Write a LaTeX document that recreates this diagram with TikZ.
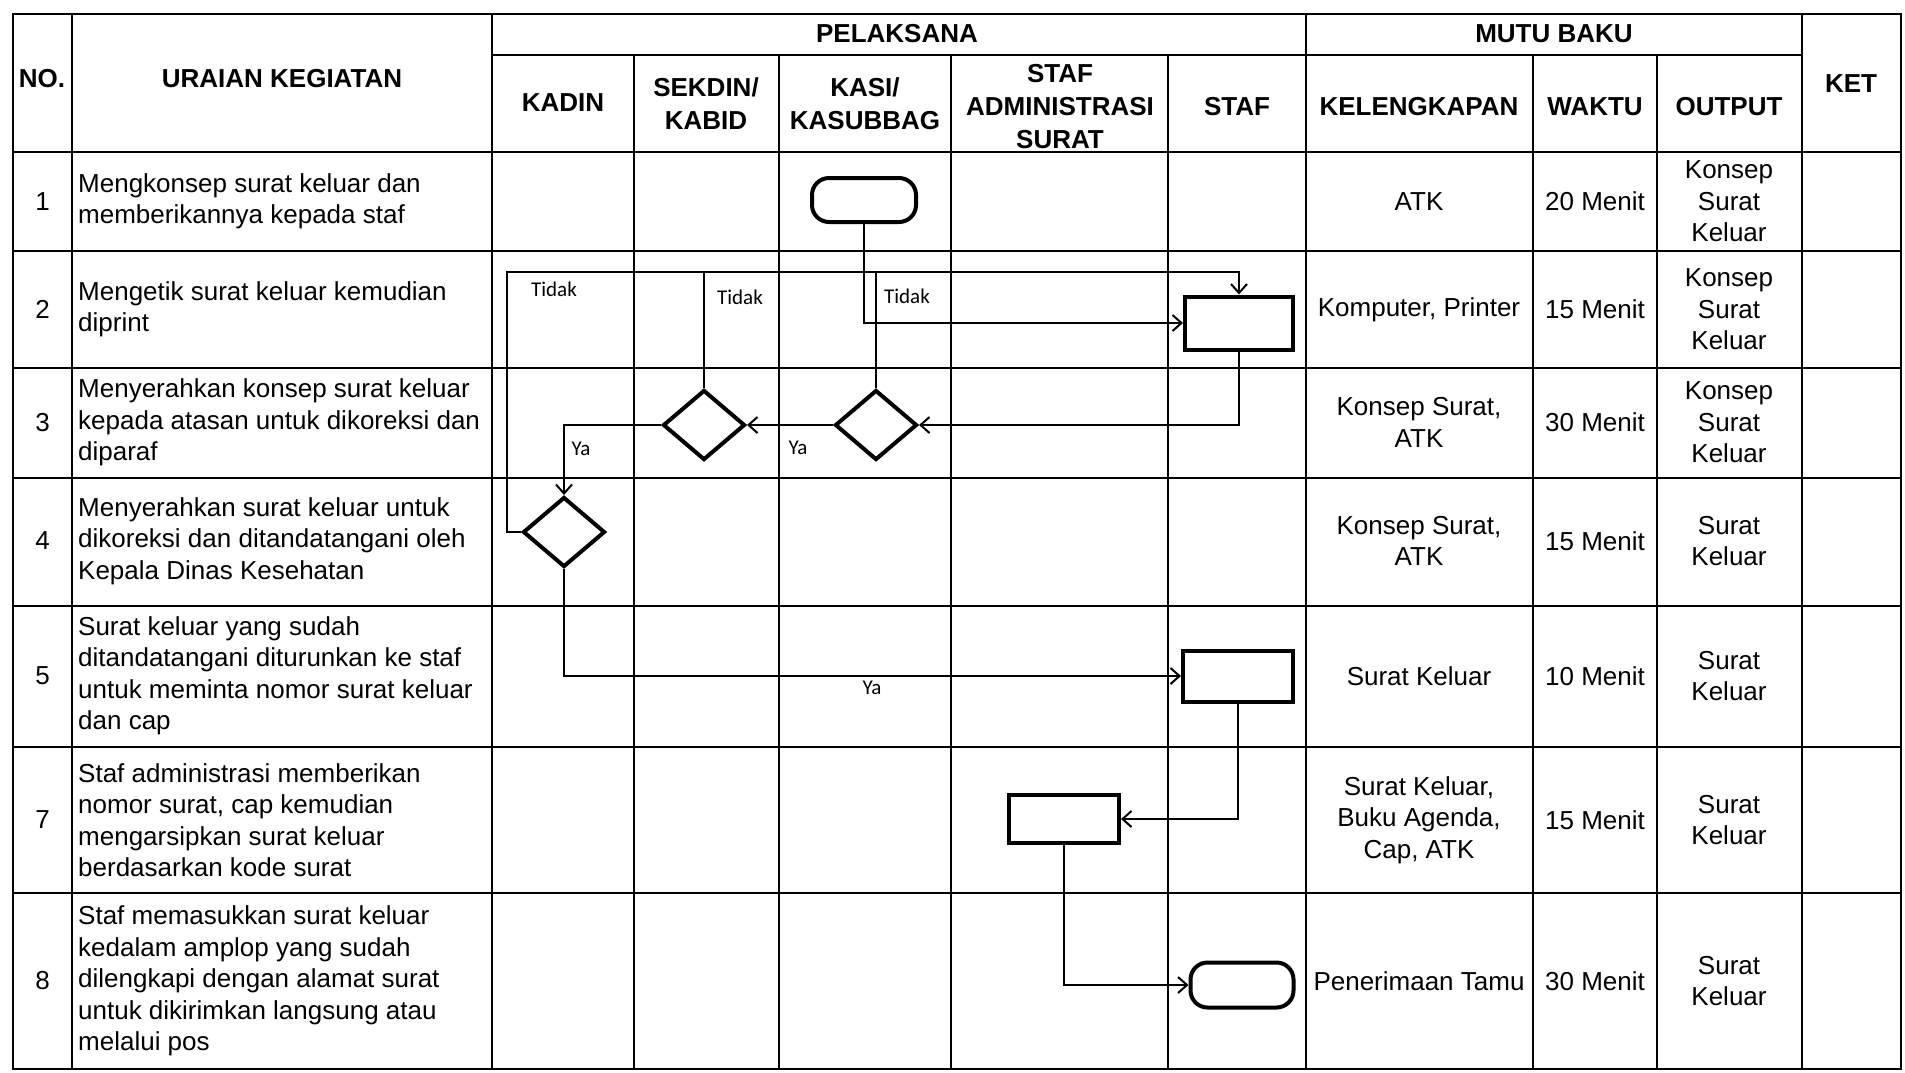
\documentclass[tikz,border=0pt]{standalone}
\usepackage{fontspec}
\setmainfont{Liberation Sans}
\newfontfamily\lblfont{Carlito}
\usetikzlibrary{shapes.geometric,arrows.meta}
\begin{document}
\begin{tikzpicture}[x=1pt,y=-1pt,
  grid/.style={line width=2.2pt},
  cell/.style={font=\fontsize{26}{31.5}\selectfont, align=center, inner sep=0pt},
  desc/.style={font=\fontsize{26}{31.5}\selectfont, align=left, anchor=west, inner sep=0pt},
  hdr/.style={font=\fontsize{26}{33}\selectfont\bfseries, align=center, inner sep=0pt},
  proc/.style={draw, line width=4pt, rectangle, inner sep=0pt},
  term/.style={draw, line width=4pt, rectangle, rounded corners=17pt, inner sep=0pt},
  dec/.style={draw, line width=4pt, diamond, inner sep=0pt, minimum width=82pt, minimum height=70pt},
  flow/.style={line width=2pt, -{Straight Barb[length=9pt,width=16pt,line width=2pt]}},
  link/.style={line width=2pt},
  lbl/.style={font=\lblfont\fontsize{21}{24}\selectfont, inner sep=0pt}
]
\useasboundingbox (0,0) rectangle (1905,1072);
\fill[white] (0,0) rectangle (1905,1072);

% ---------- table grid ----------
\draw[grid] (13,14) rectangle (1901,1069);
\draw[grid] (492,55) -- (1802,55);
\foreach \y in {152,251,368,478,606,747,893}
  \draw[grid] (13,\y) -- (1901,\y);
\foreach \x in {72,492,1306,1802}
  \draw[grid] (\x,14) -- (\x,1069);
\foreach \x in {634,779,951,1168,1533,1657}
  \draw[grid] (\x,55) -- (\x,1069);

% ---------- header ----------
\node[hdr] (hno) at (42,79) {NO.};
\node[hdr] (hur) at (282,79) {URAIAN KEGIATAN};
\node[hdr] (hpel) at (897,34) {PELAKSANA};
\node[hdr] (hmutu) at (1554,34) {MUTU BAKU};
\node[hdr] (hket) at (1851,84) {KET};
\node[hdr] (hkadin) at (563,103) {KADIN};
\node[hdr] (hsek) at (706,104) {SEKDIN/\\KABID};
\node[hdr] (hkasi) at (865,104) {KASI/\\KASUBBAG};
\node[hdr] (hadm) at (1060,107) {STAF\\ADMINISTRASI\\SURAT};
\node[hdr] (hstaf) at (1237,107) {STAF};
\node[hdr] (hkel) at (1419,107) {KELENGKAPAN};
\node[hdr] (hwak) at (1595,107) {WAKTU};
\node[hdr] (hout) at (1729,107) {OUTPUT};

% ---------- numbers ----------
\node[cell] (n1) at (42.5,201.5) {1};
\node[cell] (n2) at (42.5,309.5) {2};
\node[cell] (n3) at (42.5,422.5) {3};
\node[cell] (n4) at (42.5,541) {4};
\node[cell] (n5) at (42.5,676) {5};
\node[cell] (n7) at (42.5,820) {7};
\node[cell] (n8) at (42.5,981) {8};

% ---------- descriptions ----------
\node[desc] (u1) at (78,201.5) {Mengkonsep surat keluar dan\\memberikannya kepada staf};
\node[desc] (u2) at (78,309.5) {Mengetik surat keluar kemudian\\diprint};
\node[desc] (u3) at (78,422.5) {Menyerahkan konsep surat keluar\\kepada atasan untuk dikoreksi dan\\diparaf};
\node[desc] (u4) at (78,541) {Menyerahkan surat keluar untuk\\dikoreksi dan ditandatangani oleh\\Kepala Dinas Kesehatan};
\node[desc] (u5) at (78,676) {Surat keluar yang sudah\\ditandatangani diturunkan ke staf\\untuk meminta nomor surat keluar\\dan cap};
\node[desc] (u7) at (78,820) {Staf administrasi memberikan\\nomor surat, cap kemudian\\mengarsipkan surat keluar\\berdasarkan kode surat};
\node[desc] (u8) at (78,981) {Staf memasukkan surat keluar\\kedalam amplop yang sudah\\dilengkapi dengan alamat surat\\untuk dikirimkan langsung atau\\melalui pos};

% ---------- mutu baku ----------
\node[cell] (k1) at (1419,201.5) {ATK};
\node[cell] (w1) at (1595,201.5) {20 Menit};
\node[cell] (o1) at (1729,201.5) {Konsep\\Surat\\Keluar};
\node[cell] (k2) at (1419,309.5) {Komputer, Printer};
\node[cell] (w2) at (1595,309.5) {15 Menit};
\node[cell] (o2) at (1729,309.5) {Konsep\\Surat\\Keluar};
\node[cell] (k3) at (1419,422.5) {Konsep Surat,\\ATK};
\node[cell] (w3) at (1595,422.5) {30 Menit};
\node[cell] (o3) at (1729,422.5) {Konsep\\Surat\\Keluar};
\node[cell] (k4) at (1419,541) {Konsep Surat,\\ATK};
\node[cell] (w4) at (1595,541) {15 Menit};
\node[cell] (o4) at (1729,541) {Surat\\Keluar};
\node[cell] (k5) at (1419,676) {Surat Keluar};
\node[cell] (w5) at (1595,676) {10 Menit};
\node[cell] (o5) at (1729,676) {Surat\\Keluar};
\node[cell] (k7) at (1419,820) {Surat Keluar,\\Buku Agenda,\\Cap, ATK};
\node[cell] (w7) at (1595,820) {15 Menit};
\node[cell] (o7) at (1729,820) {Surat\\Keluar};
\node[cell] (k8) at (1419,981) {Penerimaan Tamu};
\node[cell] (w8) at (1595,981) {30 Menit};
\node[cell] (o8) at (1729,981) {Surat\\Keluar};

% ---------- flowchart shapes ----------
\node[term, minimum width=104pt, minimum height=44pt] (t1) at (864,200) {};
\node[proc, minimum width=108pt, minimum height=53pt] (p2) at (1239,323) {};
\node[dec] (d3k) at (876,425) {};
\node[dec] (d3s) at (704,425) {};
\node[dec] (d4) at (564,532) {};
\node[proc, minimum width=110pt, minimum height=51pt] (p5) at (1238,676) {};
\node[proc, minimum width=110pt, minimum height=48pt] (p7) at (1064,819) {};
\node[term, minimum width=103pt, minimum height=45pt] (t8) at (1242,985) {};
\coordinate (loop) at (507,272);

% ---------- connectors ----------
\draw[flow] (t1.south) |- (p2.west);
\draw[flow] (p2.south) |- (d3k.east);
\draw[flow] (d3k.west) -- (d3s.east);
\draw[link] (d3k.north) -- (d3k.north |- loop);
\draw[link] (d3s.north) -- (d3s.north |- loop);
\draw[flow] (d3s.west) -| (d4.north);
\draw[flow] (d4.west) -| (loop) -| (p2.north);
\draw[flow] (d4.south) |- (p5.west);
\draw[flow] (p5.south) |- (p7.east);
\draw[flow] (p7.south) |- (t8.west);

% ---------- labels ----------
\node[lbl] (l1) at (554,289) {Tidak};
\node[lbl] (l2) at (740,297) {Tidak};
\node[lbl] (l3) at (907,296) {Tidak};
\node[lbl] (l4) at (581,449) {Ya};
\node[lbl] (l5) at (798,448) {Ya};
\node[lbl] (l6) at (872,688) {Ya};
\end{tikzpicture}
\end{document}
